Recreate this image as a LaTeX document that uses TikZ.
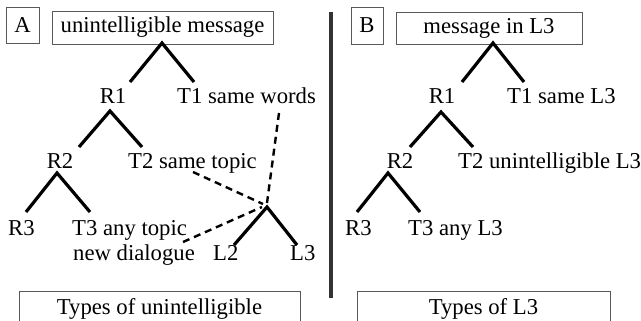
\documentclass[tikz,border=0pt]{standalone}
\usepackage{fontspec}
\setmainfont{Liberation Serif}
\begin{document}
\begin{tikzpicture}[x=1pt,y=-1pt,
  every node/.style={font=\fontsize{22.7}{25}\selectfont, inner sep=0pt},
  bx/.style={draw=black!65, line width=0.9pt},
  branch/.style={line width=3.2pt, line join=miter},
  dsh/.style={line width=2.4pt, dash pattern=on 7pt off 5pt},
  lbl/.style={anchor=base west},
  rlab/.style={anchor=base}]
\useasboundingbox (0,0) rectangle (641,321);
\clip (0,0) rectangle (641,321);
\fill[white] (0,0) rectangle (641,321);

% separator
\draw[line width=4pt, black!80] (330.5,12) coordinate (s1) -- (330.5,298) coordinate (s2);

% ---------------- Panel A ----------------
\node[bx, minimum width=33pt, minimum height=36pt] (boxA) at (22.5,25) {A};
\node[bx, minimum width=221pt, minimum height=33pt] (msgA) at (162.5,27.5) {unintelligible message};

\node[rlab] (aR1) at (113,104) {R1};
\node[lbl] (aT1) at (177,104) {T1 same words};
\node[rlab] (aR2) at (60,168) {R2};
\node[lbl] (aT2) at (128,168) {T2 same topic};
\node[lbl] (aR3) at (8,235) {R3};
\node[lbl, align=left] (aT3) at (72,260) {T3 any topic\\\hspace*{1pt}new dialogue};
\node[lbl] (aL2) at (213,260) {L2};
\node[lbl] (aL3) at (290,260) {L3};

\node[bx, anchor=north, minimum width=281pt, text height=17pt, text depth=40pt, inner ysep=6pt] (typA) at (159.5,291) {Types of unintelligible};

% tree A
\coordinate (a0) at (162,43);
\coordinate (a0l) at (130,82);
\coordinate (a0r) at (194,82);
\coordinate (a1) at (110,111);
\coordinate (a1l) at (79,147);
\coordinate (a1r) at (142,147);
\coordinate (a2) at (57,173);
\coordinate (a2l) at (26,212);
\coordinate (a2r) at (90,212);
\coordinate (aL) at (267,207);
\coordinate (aLl) at (234,245);
\coordinate (aLr) at (297,245);
\draw[branch] (a0l) -- (a0) -- (a0r);
\draw[branch] (a1l) -- (a1) -- (a1r);
\draw[branch] (a2l) -- (a2) -- (a2r);
\draw[branch] (aLl) -- (aL) -- (aLr);

\coordinate (d1s) at (279,113);
\coordinate (d1e) at (267,203);
\coordinate (d2s) at (193,172);
\coordinate (d2e) at (263,204);
\coordinate (d3s) at (183,242);
\coordinate (d3e) at (262,207);
\draw[dsh] (d1s) -- (d1e);
\draw[dsh] (d2s) -- (d2e);
\draw[dsh] (d3s) -- (d3e);

% ---------------- Panel B ----------------
\node[bx, minimum width=32pt, minimum height=37pt] (boxB) at (367,25.5) {B};
\node[bx, minimum width=186pt, minimum height=32pt] (msgB) at (489,28) {message in L3};

\node[rlab] (bR1) at (442,104) {R1};
\node[lbl] (bT1) at (507,104) {T1 same L3};
\node[rlab] (bR2) at (400,168) {R2};
\node[lbl] (bT2) at (458,168) {T2 unintelligible L3};
\node[lbl] (bR3) at (345,235) {R3};
\node[lbl] (bT3) at (408,235) {T3 any L3};

\node[bx, anchor=north, minimum width=253pt, text height=17pt, text depth=40pt, inner ysep=6pt] (typB) at (483.5,291) {Types of L3};

\coordinate (b0) at (493,43);
\coordinate (b0l) at (462,82);
\coordinate (b0r) at (524,82);
\coordinate (b1) at (441,112);
\coordinate (b1l) at (410,147);
\coordinate (b1r) at (473,147);
\coordinate (b2) at (388,173);
\coordinate (b2l) at (357,212);
\coordinate (b2r) at (420,212);
\draw[branch] (b0l) -- (b0) -- (b0r);
\draw[branch] (b1l) -- (b1) -- (b1r);
\draw[branch] (b2l) -- (b2) -- (b2r);
\end{tikzpicture}
\end{document}
